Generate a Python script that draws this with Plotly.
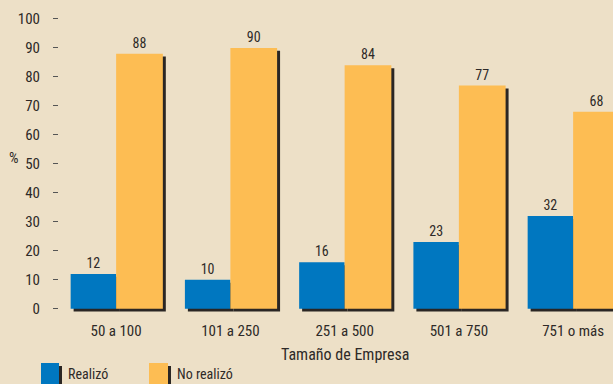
import plotly.graph_objects as go

# Survey results by company size
categorias = ["50 a 100", "101 a 250", "251 a 500", "501 a 750", "751 o más"]
realizo = [12, 10, 16, 23, 32]
no_realizo = [88, 90, 84, 77, 68]
series_nombres = ["Realizó", "No realizó"]
y_ticks = [0, 10, 20, 30, 40, 50, 60, 70, 80, 90, 100]
titulo_x = "Tamaño de Empresa"

BG = "#EDE0C7"
AZUL = "#0077C0"
NARANJA = "#FDBD53"
SOMBRA = "#2A2624"
TEXTO = "#2E2A28"
FUENTE = "Roboto Condensed, Liberation Sans Narrow, sans-serif"

W, H = 613, 384
ML, MR, MT, MB = 59, 0, 14, 71

x_idx = list(range(len(categorias)))

W_AZUL, W_NAR = 0.398, 0.409
DX = 0.026   # shadow shift along x (category units)
DY = 1.0     # shadow shift along y (data units)

fig = go.Figure()

# drop shadows behind each bar
for vals, off, w in [(realizo, -W_AZUL, W_AZUL), (no_realizo, 0.0, W_NAR)]:
    fig.add_trace(go.Bar(
        x=x_idx, y=vals, base=[-DY] * len(vals),
        offset=off + DX, width=w,
        marker=dict(color=SOMBRA, line=dict(width=0)),
        showlegend=False, hoverinfo="skip",
    ))

for vals, nombre, off, w, col in [(realizo, series_nombres[0], -W_AZUL, W_AZUL, AZUL),
                                  (no_realizo, series_nombres[1], 0.0, W_NAR, NARANJA)]:
    fig.add_trace(go.Bar(
        x=x_idx, y=vals, name=nombre,
        offset=off, width=w,
        marker=dict(color=col, line=dict(width=0)),
        text=[str(v) for v in vals], textposition="outside",
        textfont=dict(size=14, color=TEXTO, family=FUENTE),
        constraintext="none", cliponaxis=False, showlegend=False,
    ))

fig.update_layout(
    width=W, height=H,
    margin=dict(l=ML, r=MR, t=MT, b=MB),
    paper_bgcolor=BG, plot_bgcolor=BG,
    barmode="overlay",
    font=dict(family=FUENTE, color=TEXTO, size=15),
    showlegend=False,
    xaxis=dict(
        range=[-0.5, 4.349], tickmode="array", tickvals=x_idx, ticktext=categorias,
        showgrid=False, zeroline=False, showline=False, ticks="",
        tickfont=dict(size=15), ticklabelstandoff=7,
    ),
    yaxis=dict(
        range=[-1.48, 101.7], tickmode="array", tickvals=y_ticks,
        showgrid=False, zeroline=False, showline=False,
        ticks="outside", ticklen=5, tickwidth=1, tickcolor="#555",
        ticklabelstandoff=10, tickfont=dict(size=15),
    ),
)


def px_to_paper(xp, yp):
    return ((xp - ML) / (W - ML - MR), (H - MB - yp) / (H - MT - MB))


# x-axis title centred under the middle category
_, ty = px_to_paper(0, 354)
fig.add_annotation(x=2, y=ty, xref="x", yref="paper", text=titulo_x,
                   xanchor="center", yanchor="middle", showarrow=False,
                   font=dict(size=16))

# "%" axis label
px, py = px_to_paper(14, 158)
fig.add_annotation(x=px, y=py, xref="paper", yref="paper", text="%",
                   xanchor="center", yanchor="middle",
                   showarrow=False, font=dict(size=15))

# legend drawn as swatches with a shadow edge
leyenda = [(41, 59, AZUL, 68, series_nombres[0]), (149, 168, NARANJA, 177, series_nombres[1])]
for x0, x1, col, xt, nombre in leyenda:
    sx0, sy0 = px_to_paper(x1, 366)
    sx1, sy1 = px_to_paper(x1 + 3, 390)
    fig.add_shape(type="rect", xref="paper", yref="paper", x0=sx0, x1=sx1, y0=sy1, y1=sy0,
                  fillcolor=SOMBRA, line=dict(width=0), layer="above")
    a0, b0 = px_to_paper(x0, 363)
    a1, b1 = px_to_paper(x1, 390)
    fig.add_shape(type="rect", xref="paper", yref="paper", x0=a0, x1=a1, y0=b1, y1=b0,
                  fillcolor=col, line=dict(width=0), layer="above")
    tx, ty = px_to_paper(xt - 2, 374)
    fig.add_annotation(x=tx, y=ty, xref="paper", yref="paper", text=nombre,
                       xanchor="left", yanchor="middle", showarrow=False,
                       font=dict(size=14))

fig.write_html("out.html")
